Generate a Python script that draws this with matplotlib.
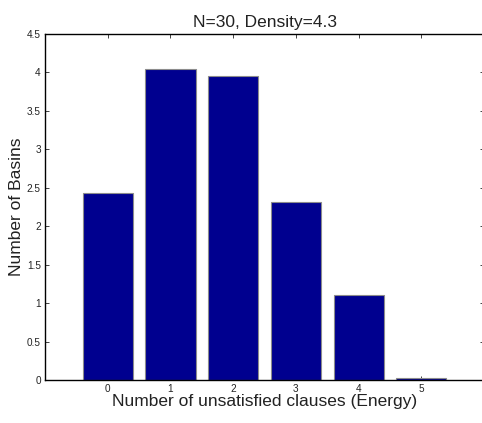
import matplotlib
matplotlib.use("Agg")
import matplotlib.pyplot as plt

energy = [0, 1, 2, 3, 4, 5]
basins = [2.43, 4.05, 3.95, 2.32, 1.11, 0.02]
yticks = [0, 0.5, 1, 1.5, 2, 2.5, 3, 3.5, 4, 4.5]
ytick_labels = ["0", "0.5", "1", "1.5", "2", "2.5", "3", "3.5", "4", "4.5"]

plt.rcParams["font.family"] = ["Liberation Sans", "DejaVu Sans"]

fig = plt.figure(figsize=(4.82, 4.23), dpi=100)
ax = fig.add_axes([0.0934, 0.1017, 0.9108, 0.818])

ax.bar(energy, basins, width=0.8, color="#00008f", edgecolor="#8c8c8c",
       linewidth=0.8, zorder=2)

ax.set_xlim(-1, 6)
ax.set_ylim(0, 4.5)
ax.set_xticks(energy)
ax.set_xticklabels([str(e) for e in energy])
ax.set_yticks(yticks)
ax.set_yticklabels(ytick_labels)

ax.tick_params(direction="in", length=3, width=0.6, labelsize=7.2,
               colors="#222222", top=True, right=True, pad=3)
for side in ["left", "bottom", "top", "right"]:
    ax.spines[side].set_linewidth(1.0)

ax.set_title("N=30, Density=4.3", fontsize=12.5, pad=5, color="#222222")
ax.set_xlabel("Number of unsatisfied clauses (Energy)", fontsize=12.5,
              labelpad=0, color="#222222")
ax.set_ylabel("Number of Basins", fontsize=12.5, labelpad=2, color="#222222")

fig.savefig("out.png", dpi=100)
